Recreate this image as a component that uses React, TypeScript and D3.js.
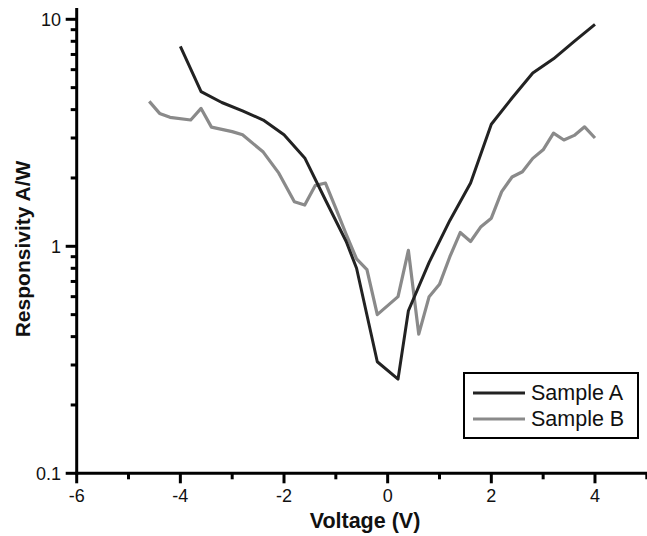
import React from "react";
import * as d3 from "d3";

const sampleAX = [-4.0, -3.6, -3.2, -2.8, -2.4, -2.0, -1.6, -1.2, -0.8, -0.6, -0.2, 0.2, 0.4, 0.8, 1.2, 1.6, 2.0, 2.4, 2.8, 3.2, 3.6, 4.0];
const sampleAY = [7.6, 4.8, 4.3, 3.95, 3.6, 3.1, 2.45, 1.6, 1.05, 0.8, 0.31, 0.26, 0.52, 0.85, 1.3, 1.9, 3.45, 4.5, 5.8, 6.7, 8.0, 9.5];

const sampleBX = [-4.6, -4.4, -4.2, -3.8, -3.6, -3.4, -3.0, -2.8, -2.4, -2.1, -1.8, -1.6, -1.4, -1.2, -1.0, -0.8, -0.6, -0.4, -0.2, 0.2, 0.4, 0.6, 0.8, 1.0, 1.2, 1.4, 1.6, 1.8, 2.0, 2.2, 2.4, 2.6, 2.8, 3.0, 3.2, 3.4, 3.6, 3.8, 4.0];
const sampleBY = [4.35, 3.85, 3.7, 3.6, 4.05, 3.35, 3.2, 3.1, 2.6, 2.1, 1.57, 1.52, 1.85, 1.9, 1.47, 1.13, 0.88, 0.79, 0.5, 0.6, 0.96, 0.41, 0.6, 0.68, 0.9, 1.15, 1.05, 1.22, 1.33, 1.74, 2.02, 2.13, 2.44, 2.66, 3.15, 2.94, 3.08, 3.36, 3.0];

const xMajorTicks = [-6, -4, -2, 0, 2, 4];
const xMinorTicks = [-5, -3, -1, 1, 3, 5];
const yMajorTicks = [0.1, 1, 10];
const yMajorLabels = ["0.1", "1", "10"];
const yMinorTicks = [0.2, 0.3, 0.4, 0.5, 0.6, 0.7, 0.8, 0.9, 2, 3, 4, 5, 6, 7, 8, 9];

const seriesNames = ["Sample A", "Sample B"];
const seriesColors = ["#222222", "#8a8a8a"];

export default function App() {
  const W = 647, H = 536;
  const x = d3.scaleLinear().domain([-6, 5]).range([76.7, 646.8]);
  const y = d3.scaleLog().domain([0.1, 10]).range([473.3, 19.3]);
  const line = d3.line<[number, number]>().x(d => x(d[0])).y(d => y(d[1]));
  const dataA: [number, number][] = sampleAX.map((v, i) => [v, sampleAY[i]]);
  const dataB: [number, number][] = sampleBX.map((v, i) => [v, sampleBY[i]]);
  const font = "'Liberation Sans', Arial, sans-serif";
  const axisX = x(-6);
  const axisY = y(0.1);
  return (
    <svg width={W} height={H} style={{ position: "absolute", left: 0, top: 0, background: "#fff" }}>
      <rect x={0} y={0} width={W} height={H} fill="#fff" />
      {/* series */}
      <path d={line(dataB) || ""} fill="none" stroke={seriesColors[1]} strokeWidth={3.2} strokeLinejoin="round" />
      <path d={line(dataA) || ""} fill="none" stroke={seriesColors[0]} strokeWidth={3} strokeLinejoin="round" />
      {/* axes */}
      <line x1={axisX} x2={axisX} y1={8} y2={axisY + 1.5} stroke="#000" strokeWidth={3} />
      <line x1={axisX - 1.5} x2={647} y1={axisY} y2={axisY} stroke="#000" strokeWidth={3} />
      {yMajorTicks.map((t, i) => (
        <g key={"ym" + i}>
          <line x1={axisX - 11} x2={axisX} y1={y(t)} y2={y(t)} stroke="#000" strokeWidth={3} />
          <text x={61} y={y(t) + 6.5} textAnchor="end" fontFamily={font} fontSize={18} fill="#111">{yMajorLabels[i]}</text>
        </g>
      ))}
      {yMinorTicks.map((t, i) => (
        <line key={"yn" + i} x1={axisX - 6} x2={axisX} y1={y(t)} y2={y(t)} stroke="#000" strokeWidth={3} />
      ))}
      {xMajorTicks.map((t, i) => (
        <g key={"xm" + i}>
          <line x1={x(t)} x2={x(t)} y1={axisY} y2={axisY + 10} stroke="#000" strokeWidth={3} />
          <text x={x(t)} y={501.5} textAnchor="middle" fontFamily={font} fontSize={18} fill="#111">{t}</text>
        </g>
      ))}
      {xMinorTicks.map((t, i) => (
        <line key={"xn" + i} x1={x(t)} x2={x(t)} y1={axisY} y2={axisY + 6} stroke="#000" strokeWidth={3} />
      ))}
      {/* titles */}
      <text x={365} y={527.5} textAnchor="middle" fontFamily={font} fontSize={21.5} fontWeight="bold" fill="#111">Voltage (V)</text>
      <text transform="translate(30,249) rotate(-90)" textAnchor="middle" fontFamily={font} fontSize={21} fontWeight="bold" fill="#111">Responsivity A/W</text>
      {/* legend */}
      <rect x={464} y={373} width={174} height={65} fill="#fff" stroke="#000" strokeWidth={2} />
      {seriesNames.map((n, i) => (
        <g key={"lg" + i}>
          <line x1={473} x2={525} y1={393 + i * 26} y2={393 + i * 26} stroke={seriesColors[i]} strokeWidth={3} />
          <text x={531} y={400 + i * 26} fontFamily={font} fontSize={21.5} fill="#111">{n}</text>
        </g>
      ))}
    </svg>
  );
}
